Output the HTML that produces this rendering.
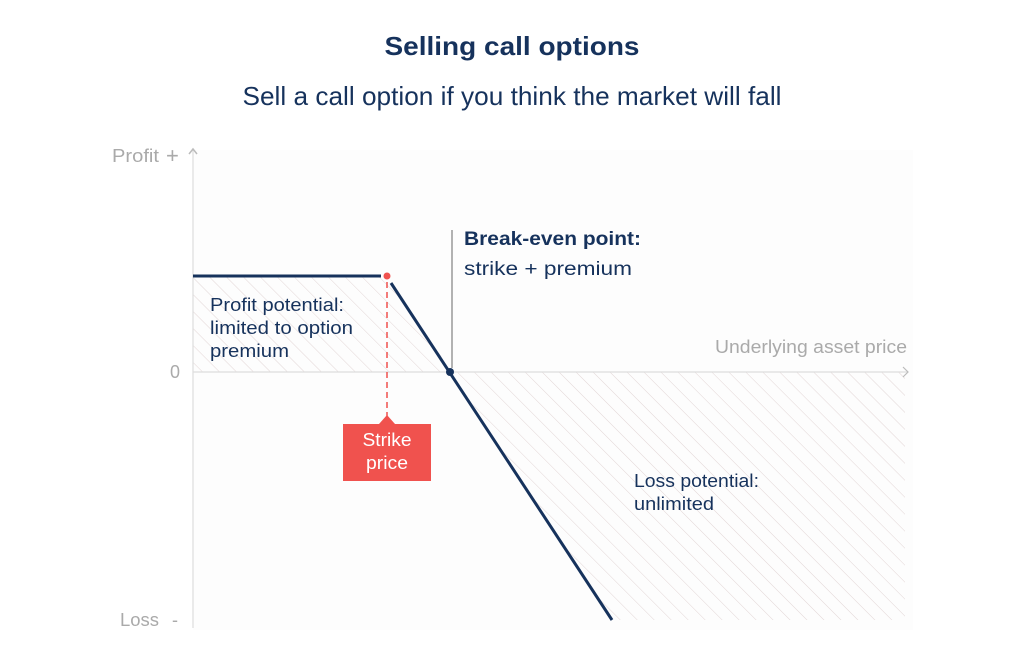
<!DOCTYPE html>
<html><head><meta charset="utf-8"><style>
html,body{margin:0;padding:0;background:#fff;}
body{width:1024px;height:656px;overflow:hidden;}
</style></head><body>
<svg width="1024" height="656" viewBox="0 0 1024 656" xmlns="http://www.w3.org/2000/svg" font-family="Liberation Sans, sans-serif">
<defs>
<pattern id="h" patternUnits="userSpaceOnUse" width="12" height="12" patternTransform="rotate(-45)">
<line x1="0" y1="0" x2="0" y2="12" stroke="#e2d6d6" stroke-width="1"/>
</pattern>
</defs>
<rect x="193" y="150" width="720" height="480" fill="#fdfdfd"/>
<text x="512" y="55" text-anchor="middle" font-size="26" font-weight="bold" fill="#16325c" textLength="255" lengthAdjust="spacingAndGlyphs">Selling call options</text>
<text x="512" y="105" text-anchor="middle" font-size="26" fill="#16325c" textLength="539" lengthAdjust="spacingAndGlyphs">Sell a call option if you think the market will fall</text>
<polygon points="193,277 387,277 452,372 193,372" fill="url(#h)"/>
<polygon points="452,372 905,372 905,620 612,620" fill="url(#h)"/>
<line x1="193" y1="150" x2="193" y2="628" stroke="#ddd" stroke-width="1.2"/>
<line x1="193" y1="372" x2="908" y2="372" stroke="#ddd" stroke-width="1.2"/>
<polyline points="903,367 908,372 903,377" fill="none" stroke="#bbb" stroke-width="1.2"/>
<polyline points="189,154 193,149 197,154" fill="none" stroke="#bbb" stroke-width="1.5"/>
<text x="112" y="162" font-size="18" fill="#aaa" textLength="47" lengthAdjust="spacingAndGlyphs">Profit</text>
<text x="166" y="163" font-size="22" fill="#aaa">+</text>
<text x="170" y="378" font-size="18" fill="#aaa">0</text>
<text x="120" y="626" font-size="18" fill="#aaa" textLength="39" lengthAdjust="spacingAndGlyphs">Loss</text>
<text x="172" y="626" font-size="18" fill="#aaa">-</text>
<text x="715" y="353" font-size="18" fill="#aaa" textLength="192" lengthAdjust="spacingAndGlyphs">Underlying asset price</text>
<line x1="452" y1="230" x2="452" y2="368" stroke="#999" stroke-width="1.5"/>
<text x="464" y="245" font-size="19" font-weight="bold" fill="#16325c" textLength="177" lengthAdjust="spacingAndGlyphs">Break-even point:</text>
<text x="464" y="275" font-size="19" fill="#16325c" textLength="168" lengthAdjust="spacingAndGlyphs">strike + premium</text>
<line x1="193" y1="276" x2="381" y2="276" stroke="#16325c" stroke-width="3"/>
<line x1="391" y1="283" x2="612" y2="620" stroke="#16325c" stroke-width="3"/>
<circle cx="450" cy="372" r="4" fill="#16325c"/>
<line x1="387" y1="282" x2="387" y2="416" stroke="#f0524e" stroke-width="1.5" stroke-dasharray="6,4"/>
<circle cx="387" cy="276" r="3.5" fill="#f0524e"/>
<rect x="343" y="424" width="88" height="57" fill="#f0524e"/>
<polygon points="379,424 387,415 395,424" fill="#f0524e"/>
<text x="387" y="446" text-anchor="middle" font-size="18" fill="#fff" textLength="49" lengthAdjust="spacingAndGlyphs">Strike</text>
<text x="387" y="469" text-anchor="middle" font-size="18" fill="#fff" textLength="42" lengthAdjust="spacingAndGlyphs">price</text>
<text x="210" y="311" font-size="18" fill="#16325c" textLength="134" lengthAdjust="spacingAndGlyphs">Profit potential:</text>
<text x="210" y="334" font-size="18" fill="#16325c" textLength="143" lengthAdjust="spacingAndGlyphs">limited to option</text>
<text x="210" y="357" font-size="18" fill="#16325c" textLength="79" lengthAdjust="spacingAndGlyphs">premium</text>
<text x="634" y="487" font-size="18" fill="#16325c" textLength="125" lengthAdjust="spacingAndGlyphs">Loss potential:</text>
<text x="634" y="510" font-size="18" fill="#16325c" textLength="80" lengthAdjust="spacingAndGlyphs">unlimited</text>
</svg>
</body></html>
